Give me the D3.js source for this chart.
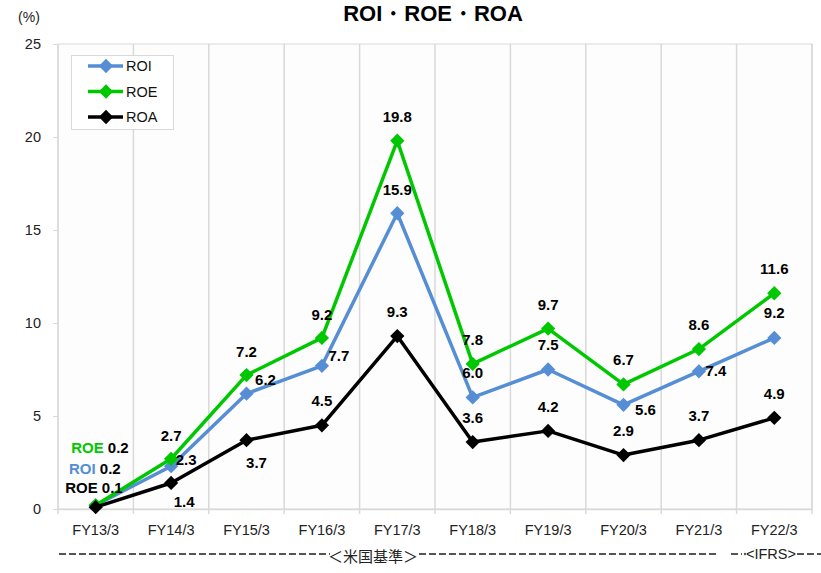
<!DOCTYPE html>
<html>
<head>
<meta charset="utf-8">
<script src="https://cdn.jsdelivr.net/npm/d3@7"></script>
<style>
  body { margin: 0; background: #fff; }
  text { font-family: "Liberation Sans", "Noto Sans", sans-serif; }
</style>
</head>
<body>
<svg id="chart" width="821" height="573"></svg>
<script>
// data
const categories = ['FY13/3', 'FY14/3', 'FY15/3', 'FY16/3', 'FY17/3', 'FY18/3', 'FY19/3', 'FY20/3', 'FY21/3', 'FY22/3'];
const roi = [0.2, 2.3, 6.2, 7.7, 15.9, 6.0, 7.5, 5.6, 7.4, 9.2];
const roe = [0.2, 2.7, 7.2, 9.2, 19.8, 7.8, 9.7, 6.7, 8.6, 11.6];
const roa = [0.1, 1.4, 3.7, 4.5, 9.3, 3.6, 4.2, 2.9, 3.7, 4.9];
const yTicks = [0, 5, 10, 15, 20, 25];

// label offsets (px) for each point, first point handled separately
const roi_off = [null, [15, -6], [19, -14], [17, -10], [0, -23], [0, -24], [0, -25], [22, 5], [17, 0], [0, -25]];
const roe_off = [null, [0, -23], [0, -23], [0, -23], [0, -24], [0, -24], [0, -24], [0, -24], [0, -24], [0, -24]];
const roa_off = [null, [13, 19], [10, 23], [0, -24], [0, -24], [0, -24], [0, -24], [0, -24], [0, -24], [0, -24]];

const series = [
    {name: 'ROI', values: roi, color: '#558ed5', off: roi_off},
    {name: 'ROE', values: roe, color: '#00c800', off: roe_off},
    {name: 'ROA', values: roa, color: '#000000', off: roa_off}
];

const svg = d3.select('#chart');
const p_left = 58, p_right = 812, p_top = 44, p_bottom = 509;
const axisFont = 14.5, labelFont = 15;

const x = d3.scaleBand().domain(categories).range([p_left, p_right]);
const y = d3.scaleLinear().domain([0, 25]).range([p_bottom, p_top]);
const cx = function(i) { return x(categories[i]) + x.bandwidth() / 2; };

// plot background + border
svg.append('rect')
    .attr('x', p_left).attr('y', p_top)
    .attr('width', p_right - p_left).attr('height', p_bottom - p_top)
    .attr('fill', '#fdfdfd').attr('stroke', '#d9d9d9');

// vertical gridlines at category boundaries
svg.selectAll('.vgrid').data(categories)
    .enter().append('line')
    .attr('x1', function(d) { return x(d); })
    .attr('x2', function(d) { return x(d); })
    .attr('y1', p_top).attr('y2', p_bottom + 5)
    .attr('stroke', '#d9d9d9').attr('stroke-width', 1.5);
svg.append('line')
    .attr('x1', p_right).attr('x2', p_right).attr('y1', p_top).attr('y2', p_bottom + 5)
    .attr('stroke', '#d9d9d9').attr('stroke-width', 1.5);

// y axis
const yAxis = d3.axisLeft(y).tickValues(yTicks).tickSize(5).tickPadding(12);
const gy = svg.append('g').attr('transform', 'translate(' + p_left + ',0)').call(yAxis);
gy.select('.domain').remove();
gy.selectAll('line').attr('stroke', '#d9d9d9');
gy.selectAll('text').attr('font-size', axisFont).attr('fill', '#222')
    .style('font-family', '"Liberation Sans", sans-serif');

// x axis
const xAxis = d3.axisBottom(x).tickSize(0).tickPadding(16);
const gx = svg.append('g').attr('transform', 'translate(0,' + p_bottom + ')').call(xAxis);
gx.select('.domain').attr('stroke', '#d9d9d9').attr('stroke-width', 1.5);
gx.selectAll('text').attr('font-size', axisFont).attr('fill', '#222')
    .style('font-family', '"Liberation Sans", sans-serif');

// title and unit
svg.append('text').attr('x', 433).attr('y', 21).attr('text-anchor', 'middle')
    .attr('font-size', 22).attr('font-weight', 'bold').text('ROI・ROE・ROA');
svg.append('text').attr('x', 29).attr('y', 22).attr('text-anchor', 'middle')
    .attr('font-size', 14).attr('fill', '#222').text('(%)');

// lines
const line = d3.line()
    .x(function(d, i) { return cx(i); })
    .y(function(d) { return y(d); });
const diamond = d3.symbol().type(d3.symbolDiamond2).size(130);

// draw in order ROI, ROE, ROA (ROA on top)
series.forEach(function(s) {
    svg.append('path').datum(s.values)
        .attr('d', line)
        .attr('fill', 'none')
        .attr('stroke', s.color)
        .attr('stroke-width', 3.5)
        .attr('stroke-linejoin', 'round');
    svg.selectAll('.m-' + s.name).data(s.values)
        .enter().append('path')
        .attr('d', diamond)
        .attr('transform', function(d, i) { return 'translate(' + cx(i) + ',' + y(d) + ')'; })
        .attr('fill', s.color);
});

// value labels
series.forEach(function(s) {
    svg.selectAll('.l-' + s.name).data(s.values.slice(1))
        .enter()
        .append('text')
        .attr('x', function(d, i) { return cx(i + 1) + s.off[i + 1][0]; })
        .attr('y', function(d, i) { return y(d) + s.off[i + 1][1] + 5; })
        .attr('text-anchor', 'middle')
        .attr('font-size', labelFont).attr('font-weight', 'bold')
        .text(function(d) { return d.toFixed(1); });
});

// first-point labels (stacked to the left)
const first = [
    {tag: 'ROE', tagColor: '#00c800', v: roe[0], dx: 33, dy: -61},
    {tag: 'ROI', tagColor: '#558ed5', v: roi[0], dx: 25, dy: -40},
    {tag: 'ROE', tagColor: '#000000', v: roa[0], dx: 27, dy: -21}
];
first.forEach(function(f) {
    const t = svg.append('text')
        .attr('x', cx(0) + f.dx)
        .attr('y', y(0) + f.dy + 5)
        .attr('text-anchor', 'end')
        .attr('font-size', labelFont).attr('font-weight', 'bold');
    t.append('tspan').attr('fill', f.tagColor).text(f.tag + ' ');
    t.append('tspan').attr('fill', '#000').text(f.v.toFixed(1));
});

// legend
const lg = svg.append('g');
lg.append('rect').attr('x', 71.5).attr('y', 55.5).attr('width', 102).attr('height', 74)
    .attr('fill', '#fff').attr('stroke', '#d9d9d9');
series.forEach(function(s, i) {
    const ly = 66 + i * 25.5;
    lg.append('line').attr('x1', 88).attr('x2', 123).attr('y1', ly).attr('y2', ly)
        .attr('stroke', s.color).attr('stroke-width', 3.5);
    lg.append('path').attr('d', diamond).attr('transform', 'translate(106,' + ly + ')')
        .attr('fill', s.color);
    lg.append('text').attr('x', 126).attr('y', ly + 5).attr('font-size', 14.5)
        .attr('fill', '#111').text(s.name);
});

// accounting standard band under the axis
const dash = {stroke: '#555', width: 2, arr: '7,3'};
function dashed(x1, x2, yy) {
    svg.append('line').attr('x1', x1).attr('x2', x2).attr('y1', yy).attr('y2', yy)
        .attr('stroke', dash.stroke).attr('stroke-width', dash.width)
        .attr('stroke-dasharray', dash.arr);
}
dashed(59, 330, 554);
dashed(419, 716, 554);
svg.append('text').attr('x', 373).attr('y', 562).attr('text-anchor', 'middle')
    .attr('font-size', 15).attr('fill', '#222')
    .style('font-family', '"Noto Sans CJK JP", sans-serif').text('＜米国基準＞');
dashed(731, 742, 554);
svg.append('circle').attr('cx', 745).attr('cy', 554).attr('r', 1.2).attr('fill', '#555');
svg.append('text').attr('x', 771).attr('y', 559).attr('text-anchor', 'middle')
    .attr('font-size', 14.5).attr('fill', '#222').text('<IFRS>');
dashed(797, 821, 554);
</script>
</body>
</html>
